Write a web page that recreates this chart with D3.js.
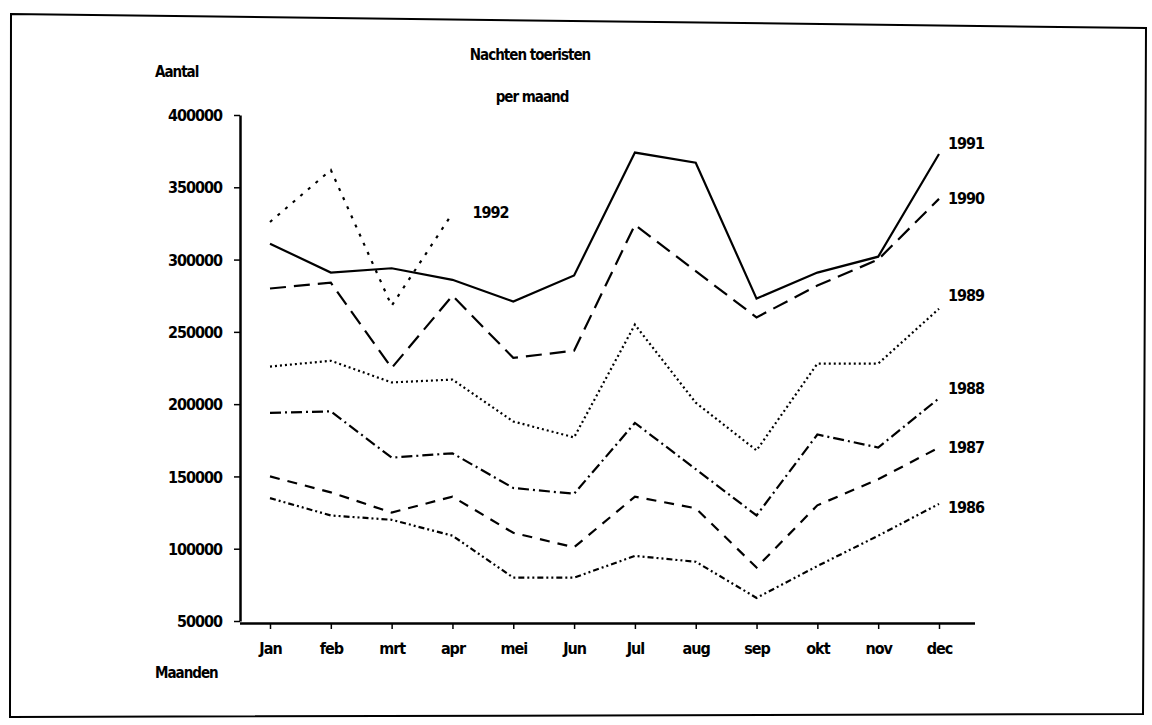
<!DOCTYPE html>
<html>
<head>
<meta charset="utf-8">
<script src="https://cdn.jsdelivr.net/npm/d3@7"></script>
<style>
  html, body { margin: 0; padding: 0; background: #fff; }
  svg { display: block; }
  text { font-family: "Liberation Sans Narrow", "DejaVu Sans Condensed", "Arial Narrow", sans-serif; fill: #000; font-weight: bold; letter-spacing: -1px; }
</style>
</head>
<body>
<svg id="chart" width="1152" height="725"></svg>
<script>
// ---- data ----
const months = ["Jan", "feb", "mrt", "apr", "mei", "Jun", "Jul", "aug", "sep", "okt", "nov", "dec"];
const yTicks = [50000, 100000, 150000, 200000, 250000, 300000, 350000, 400000];
const years = ["1986", "1987", "1988", "1989", "1990", "1991", "1992"];
const v1986 = [135000, 123000, 120000, 109000, 80000, 80000, 95000, 91000, 66000, 88000, 109000, 131000];
const v1987 = [150000, 139000, 125000, 136000, 111000, 101000, 136000, 128000, 87000, 130000, 148000, 170000];
const v1988 = [194000, 195000, 163000, 166000, 142000, 138000, 187000, 155000, 123000, 179000, 170000, 204000];
const v1989 = [226000, 230000, 215000, 217000, 188000, 177000, 255000, 201000, 168000, 228000, 228000, 266000];
const v1990 = [280000, 284000, 225000, 275000, 232000, 237000, 324000, 292000, 260000, 282000, 300000, 342000];
const v1991 = [311000, 291000, 294000, 286000, 271000, 289000, 374000, 367000, 273000, 291000, 302000, 373000];
const v1992 = [326000, 362000, 268000, 332000];
const title1 = "Nachten toeristen";
const title2 = "per maand";
const yTitle = "Aantal";
const xTitle = "Maanden";

// ---- drawing ----
const svg = d3.select("#chart");

// scanned-page frame
svg.append("path")
  .attr("d", "M11,14 L1146,28 L1143,714 L10,717 Z")
  .attr("fill", "none").attr("stroke", "#000").attr("stroke-width", 2);

const x = d3.scalePoint().domain(months).range([270, 939]);
const y = d3.scaleLinear().domain([50000, 400000]).range([621, 115]);

// y axis
const yAxis = d3.axisLeft(y).tickValues(yTicks).tickFormat(d3.format("d")).tickSize(6).tickSizeOuter(0);
const gy = svg.append("g").attr("transform", "translate(240,0)").call(yAxis);
gy.select(".domain").attr("stroke-width", 2.5);
gy.selectAll(".tick line").attr("stroke-width", 1.5);
gy.selectAll(".tick text").attr("x", -18).attr("font-size", 16).attr("dy", "0.35em");

// x axis
const xAxis = d3.axisBottom(x).tickSize(6).tickSizeOuter(0);
const gx = svg.append("g").attr("transform", "translate(0,623)").call(xAxis);
gx.select(".domain").attr("d", "M240,0.5H975").attr("stroke-width", 2.5);
gx.selectAll(".tick line").attr("stroke-width", 1.5);
gx.selectAll(".tick text").attr("y", 20).attr("font-size", 16);

// titles
svg.append("text").attr("x", 530).attr("y", 60).attr("text-anchor", "middle").attr("font-size", 15).text(title1);
svg.append("text").attr("x", 532).attr("y", 102).attr("text-anchor", "middle").attr("font-size", 15).text(title2);
svg.append("text").attr("x", 155).attr("y", 77).attr("font-size", 15).text(yTitle);
svg.append("text").attr("x", 155).attr("y", 678).attr("font-size", 15).text(xTitle);

// series
const seriesVals = [v1986, v1987, v1988, v1989, v1990, v1991, v1992];
const dashes = {
  "1986": "6,3,2,3,2,3",
  "1987": "10,8",
  "1988": "11,4,2,4",
  "1989": "2,3",
  "1990": "16,8",
  "1991": null,
  "1992": "3,7"
};
const line = d3.line().x((d, i) => x(months[i])).y(d => y(d));
years.forEach((yr, k) => {
  svg.append("path")
    .datum(seriesVals[k])
    .attr("d", line)
    .attr("fill", "none")
    .attr("stroke", "#000")
    .attr("stroke-width", 2.2)
    .attr("stroke-dasharray", dashes[yr]);
});

// series labels
const labelShift = { "1986": 4, "1987": 0, "1988": -10, "1989": -13, "1990": 0, "1991": -11, "1992": -1 };
years.forEach((yr, k) => {
  const vals = seriesVals[k];
  const last = vals[vals.length - 1];
  const lx = yr === "1992" ? x(months[vals.length - 1]) + 20 : 948;
  const ly = y(last) + labelShift[yr];
  svg.append("text").attr("x", lx).attr("y", ly).attr("dy", "0.35em").attr("font-size", 16).text(yr);
});
</script>
</body>
</html>
